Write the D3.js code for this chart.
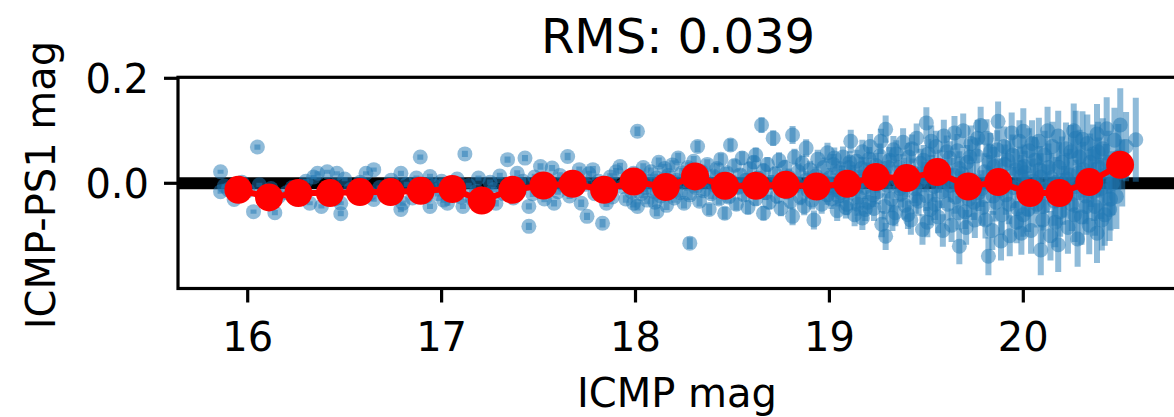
<!DOCTYPE html>
<html>
<head>
	<script type="text/javascript" src="https://cdn.jsdelivr.net/npm/d3@7"></script>
	<style type="text/css">
		body { margin: 0; background: #fff; }
		text { font-family: "DejaVu Sans", sans-serif; fill: #000; }
	</style>
</head>
<body>
<script type="text/javascript">

// star photometry: [ICMP mag, ICMP-PS1 mag, error]
var stars16 = [
	[15.86,0.022,0.004],[15.86,-0.016,0.004],[15.88,-0.005,0.004],[15.90,-0.012,0.004],[15.93,-0.031,0.004],
	[15.95,-0.020,0.004],[15.97,0.002,0.004],[16.00,-0.014,0.004],[16.03,-0.054,0.004],[16.05,0.069,0.005],
	[16.06,-0.003,0.004],[16.08,-0.022,0.004],[16.10,-0.030,0.004],[16.12,-0.010,0.004],[16.14,-0.056,0.005],
	[16.16,-0.025,0.004],[16.20,-0.018,0.004],[16.23,-0.008,0.004],[16.25,-0.030,0.004],[16.28,-0.015,0.004],
	[16.30,0.004,0.004],[16.32,-0.038,0.004],[16.34,0.012,0.004],[16.36,0.019,0.004],[16.38,-0.044,0.004],
	[16.40,-0.022,0.004],[16.41,0.022,0.004],[16.43,-0.005,0.004],[16.45,-0.030,0.004],[16.46,0.019,0.004],
	[16.48,-0.038,0.004],[16.48,-0.058,0.005],[16.50,0.008,0.004],[16.53,-0.012,0.004],[16.56,-0.026,0.004],
	[16.58,0.002,0.004],[16.61,0.019,0.004],[16.63,-0.020,0.004],[16.65,0.026,0.004],[16.65,-0.031,0.004],
	[16.68,-0.008,0.004],[16.71,-0.024,0.004],[16.74,0.006,0.004],[16.76,-0.016,0.004],[16.79,0.019,0.005],
	[16.79,-0.050,0.005],[16.80,-0.038,0.005],[16.82,-0.002,0.005],[16.85,-0.028,0.005],[16.87,0.010,0.005],
	[16.89,0.050,0.005]
];

var stars17 = [
	[16.90,-0.012,0.005],[16.92,-0.025,0.005],[16.94,0.013,0.005],[16.94,-0.044,0.005],[16.96,-0.005,0.005],
	[16.98,-0.020,0.005],[17.00,0.004,0.005],[17.01,-0.032,0.005],[17.03,-0.038,0.005],[17.04,-0.010,0.005],
	[17.06,-0.018,0.005],[17.08,0.008,0.005],[17.10,-0.026,0.005],[17.11,-0.044,0.005],[17.12,0.056,0.006],
	[17.14,-0.004,0.005],[17.16,-0.030,0.005],[17.18,-0.015,0.005],[17.19,0.010,0.005],[17.21,-0.036,0.005],
	[17.23,-0.022,0.005],[17.25,0.002,0.005],[17.27,-0.012,0.005],[17.28,-0.038,0.006],[17.30,0.014,0.006],
	[17.32,-0.020,0.006],[17.34,0.045,0.006],[17.35,-0.006,0.006],[17.37,-0.028,0.006],[17.39,0.019,0.006],
	[17.40,-0.014,0.006],[17.42,0.004,0.006],[17.43,0.048,0.006],[17.45,-0.044,0.006],[17.45,-0.082,0.007],
	[17.47,-0.020,0.006],[17.48,0.012,0.006],[17.50,-0.008,0.006],[17.51,0.032,0.006],[17.53,-0.030,0.006],
	[17.55,0.000,0.006],[17.57,0.029,0.006],[17.58,-0.038,0.006],[17.60,-0.016,0.006],[17.61,0.015,0.006],
	[17.63,-0.004,0.006],[17.65,0.051,0.007],[17.66,-0.024,0.006],[17.68,0.008,0.006],[17.70,-0.010,0.006],
	[17.71,0.026,0.006],[17.72,-0.038,0.007],[17.74,-0.002,0.006],[17.75,-0.063,0.007],[17.76,0.018,0.006],
	[17.78,0.026,0.007],[17.79,-0.020,0.007],[17.81,0.004,0.007],[17.83,-0.076,0.008],[17.84,-0.012,0.007],
	[17.85,-0.038,0.007],[17.87,0.012,0.007],[17.88,-0.026,0.007],[17.90,0.022,0.007],[17.92,0.032,0.007],
	[17.93,-0.006,0.007],[17.95,-0.030,0.007],[17.96,0.010,0.007],[17.98,-0.016,0.007],[17.99,0.019,0.007],
	[17.99,-0.038,0.008]
];

var stars18 = [
	[18.01,0.099,0.009],[18.01,-0.044,0.008],[18.02,0.012,0.008],[18.03,-0.020,0.008],[18.04,0.030,0.008],
	[18.05,-0.008,0.008],[18.06,-0.032,0.008],[18.07,0.004,0.008],[18.08,0.022,0.008],[18.09,-0.015,0.008],
	[18.10,-0.036,0.009],[18.11,-0.054,0.009],[18.11,0.010,0.008],[18.12,0.040,0.009],[18.13,-0.024,0.008],
	[18.14,-0.002,0.008],[18.15,0.028,0.009],[18.16,-0.042,0.009],[18.17,0.015,0.009],[18.18,-0.010,0.009],
	[18.19,0.035,0.009],[18.20,-0.028,0.009],[18.21,0.006,0.009],[18.22,0.048,0.010],[18.23,-0.018,0.009],
	[18.24,0.020,0.009],[18.25,-0.038,0.010],[18.26,0.000,0.009],[18.27,0.030,0.010],[18.28,-0.114,0.011],
	[18.28,-0.022,0.010],[18.29,0.012,0.010],[18.30,0.042,0.010],[18.31,-0.008,0.010],[18.32,0.070,0.011],
	[18.33,-0.034,0.010],[18.34,0.022,0.010],[18.35,-0.014,0.010],[18.36,0.004,0.010],[18.37,0.036,0.010],
	[18.38,-0.050,0.011],[18.39,-0.020,0.010],[18.40,0.014,0.011],[18.41,-0.004,0.011],[18.42,0.028,0.011],
	[18.43,-0.030,0.011],[18.44,0.046,0.011],[18.45,0.008,0.011],[18.46,-0.057,0.012],[18.46,-0.012,0.011],
	[18.47,0.020,0.011],[18.48,-0.026,0.012],[18.49,0.073,0.012],[18.50,0.002,0.012],[18.51,0.034,0.012],
	[18.52,-0.040,0.012],[18.53,-0.008,0.012],[18.54,0.016,0.012],[18.55,0.048,0.013],[18.56,-0.022,0.012],
	[18.57,0.006,0.013],[18.58,-0.046,0.013],[18.59,0.028,0.013],[18.60,-0.012,0.013],[18.61,0.040,0.013],
	[18.62,0.054,0.014],[18.62,-0.030,0.013],[18.63,0.010,0.013],[18.64,-0.004,0.013],[18.65,0.111,0.015],
	[18.66,-0.057,0.014],[18.66,0.024,0.014],[18.67,-0.018,0.014],[18.68,0.036,0.014],[18.69,-0.036,0.014],
	[18.70,0.002,0.014],[18.71,0.086,0.015],[18.72,0.018,0.014],[18.73,-0.024,0.015],[18.74,0.044,0.015],
	[18.75,-0.048,0.015],[18.76,-0.006,0.015],[18.77,0.030,0.015],[18.78,-0.016,0.015],[18.79,0.012,0.016],
	[18.80,-0.034,0.016],[18.81,0.092,0.017],[18.81,-0.063,0.017],[18.82,0.050,0.016],[18.83,-0.002,0.016],
	[18.84,0.022,0.016],[18.85,-0.026,0.016],[18.86,0.038,0.017],[18.87,-0.044,0.017],[18.88,0.067,0.017],
	[18.88,0.006,0.017],[18.89,-0.014,0.017],[18.90,0.026,0.017],[18.91,-0.032,0.018],[18.92,-0.070,0.018],
	[18.93,0.014,0.018],[18.94,0.046,0.018],[18.95,-0.008,0.018],[18.96,-0.040,0.018],[18.97,0.030,0.019],
	[18.98,0.000,0.019],[18.99,0.058,0.019],[18.99,-0.022,0.019]
];

var stars19 = [
	[19.00,0.010,0.019],[19.005,-0.004,0.019],[19.01,-0.030,0.019],[19.02,0.036,0.020],[19.025,0.048,0.020],
	[19.03,-0.006,0.020],[19.04,-0.052,0.020],[19.045,-0.024,0.020],[19.05,0.022,0.020],[19.06,-0.018,0.020],
	[19.065,0.014,0.020],[19.07,0.050,0.020],[19.08,0.000,0.021],[19.085,-0.046,0.021],[19.09,-0.040,0.021],
	[19.10,0.030,0.021],[19.105,0.040,0.021],[19.11,0.080,0.022],[19.11,-0.012,0.021],[19.12,0.014,0.021],
	[19.125,-0.004,0.021],[19.13,-0.060,0.022],[19.14,0.042,0.022],[19.145,-0.040,0.022],[19.15,-0.026,0.022],
	[19.16,0.004,0.022],[19.165,0.028,0.022],[19.17,-0.066,0.023],[19.17,0.060,0.023],[19.18,-0.008,0.022],
	[19.185,-0.050,0.022],[19.19,0.026,0.023],[19.20,-0.036,0.023],[19.205,0.046,0.023],[19.21,0.070,0.024],
	[19.22,0.010,0.023],[19.225,-0.022,0.023],[19.23,-0.048,0.024],[19.24,0.034,0.024],[19.245,0.006,0.024],
	[19.25,-0.016,0.024],[19.26,0.052,0.024],[19.265,0.080,0.024],[19.27,-0.078,0.025],[19.28,0.018,0.024],
	[19.285,-0.044,0.025],[19.29,0.103,0.026],[19.29,-0.101,0.026],[19.30,-0.004,0.025],[19.305,0.030,0.025],
	[19.31,0.044,0.025],[19.32,-0.030,0.025],[19.325,-0.066,0.025],[19.33,0.064,0.026],[19.34,-0.056,0.026],
	[19.345,0.056,0.026],[19.35,0.008,0.026],[19.36,0.030,0.026],[19.365,-0.010,0.026],[19.37,-0.020,0.026],
	[19.38,0.078,0.027],[19.385,0.022,0.027],[19.39,-0.042,0.027],[19.40,0.000,0.027],[19.405,-0.060,0.027],
	[19.41,0.050,0.027],[19.42,-0.070,0.028],[19.425,0.066,0.027],[19.43,0.020,0.027],[19.44,-0.010,0.028],
	[19.445,-0.030,0.028],[19.45,0.086,0.028],[19.46,-0.034,0.028],[19.465,0.004,0.028],[19.47,0.038,0.028],
	[19.48,-0.088,0.029],[19.485,0.044,0.029],[19.49,0.012,0.029],[19.50,0.115,0.030],[19.50,-0.024,0.029],
	[19.505,-0.074,0.029],[19.51,0.056,0.029],[19.52,-0.050,0.030],[19.525,0.080,0.030],[19.53,0.024,0.030],
	[19.54,-0.006,0.030],[19.545,-0.040,0.030],[19.55,0.070,0.030],[19.56,-0.064,0.031],[19.565,0.012,0.030],
	[19.57,0.034,0.030],[19.58,-0.016,0.031],[19.585,-0.090,0.031],[19.59,0.090,0.031],[19.60,0.004,0.031],
	[19.605,0.060,0.031],[19.61,-0.040,0.031],[19.62,0.048,0.032],[19.625,-0.004,0.032],[19.63,-0.080,0.032],
	[19.64,0.016,0.032],[19.645,0.096,0.032],[19.65,-0.026,0.032],[19.66,0.062,0.032],[19.665,-0.056,0.032],
	[19.67,-0.120,0.034],[19.67,0.028,0.033],[19.68,-0.010,0.033],[19.685,0.018,0.033],[19.69,0.100,0.033],
	[19.70,-0.054,0.033],[19.705,-0.084,0.033],[19.71,0.040,0.033],[19.72,-0.030,0.034],[19.725,0.050,0.034],
	[19.73,0.076,0.034],[19.74,0.006,0.034],[19.745,-0.036,0.034],[19.75,-0.070,0.034],[19.76,0.052,0.035],
	[19.765,0.086,0.035],[19.77,-0.018,0.035],[19.78,0.110,0.036],[19.785,-0.010,0.035],[19.79,-0.046,0.035],
	[19.80,0.022,0.035],[19.805,-0.070,0.035],[19.81,0.086,0.036],[19.82,-0.139,0.036],[19.82,-0.002,0.036],
	[19.825,0.040,0.036],[19.83,0.060,0.036],[19.84,-0.090,0.037],[19.845,-0.024,0.036],[19.85,0.032,0.037],
	[19.86,-0.036,0.037],[19.865,0.064,0.037],[19.87,0.118,0.038],[19.88,0.010,0.037],[19.885,-0.110,0.037],
	[19.89,-0.060,0.038],[19.90,0.070,0.038],[19.905,0.036,0.038],[19.91,-0.022,0.038],[19.92,0.044,0.038],
	[19.925,-0.040,0.038],[19.93,-0.100,0.039],[19.94,0.096,0.039],[19.945,0.054,0.039],[19.95,-0.008,0.039],
	[19.96,0.026,0.040],[19.965,-0.074,0.040],[19.97,-0.048,0.040],[19.98,0.080,0.040],[19.985,0.030,0.040],
	[19.99,-0.095,0.041],[19.99,0.014,0.040]
];

var stars20 = [
	[20.00,0.099,0.044],[20.00,-0.060,0.042],[20.005,0.032,0.042],[20.01,0.020,0.042],[20.02,-0.020,0.043],
	[20.025,-0.050,0.043],[20.03,0.062,0.043],[20.04,-0.090,0.044],[20.045,0.076,0.044],[20.05,0.004,0.043],
	[20.06,0.044,0.044],[20.065,-0.014,0.044],[20.07,-0.040,0.044],[20.08,0.080,0.045],[20.085,0.026,0.045],
	[20.09,-0.127,0.048],[20.09,0.012,0.045],[20.10,-0.070,0.045],[20.105,-0.044,0.046],[20.11,0.054,0.046],
	[20.12,-0.010,0.046],[20.125,0.100,0.046],[20.13,0.030,0.046],[20.14,-0.100,0.047],[20.145,0.010,0.047],
	[20.15,0.070,0.047],[20.16,-0.034,0.047],[20.165,-0.074,0.048],[20.17,0.002,0.048],[20.18,-0.117,0.052],
	[20.18,0.090,0.048],[20.185,0.030,0.048],[20.19,-0.054,0.048],[20.20,0.040,0.049],[20.205,-0.030,0.049],
	[20.21,-0.016,0.049],[20.22,0.066,0.050],[20.225,0.008,0.050],[20.23,-0.084,0.050],[20.24,0.016,0.050],
	[20.245,0.060,0.051],[20.25,-0.040,0.051],[20.26,0.100,0.052],[20.265,-0.060,0.052],[20.27,0.086,0.052],
	[20.27,-0.006,0.051],[20.28,-0.106,0.053],[20.285,0.020,0.052],[20.29,0.050,0.052],[20.30,-0.064,0.053],
	[20.305,0.084,0.053],[20.31,0.026,0.053],[20.32,-0.024,0.054],[20.325,-0.044,0.054],[20.33,0.076,0.055],
	[20.34,-0.080,0.055],[20.345,0.040,0.055],[20.35,0.010,0.055],[20.36,0.056,0.056],[20.365,-0.016,0.056],
	[20.37,-0.044,0.056],[20.38,-0.095,0.057],[20.38,0.094,0.057],[20.385,0.060,0.057],[20.39,0.030,0.057],
	[20.40,-0.010,0.058],[20.405,-0.070,0.058],[20.41,0.066,0.058],[20.42,-0.060,0.059],[20.425,0.016,0.059],
	[20.43,0.104,0.060],[20.44,0.040,0.060],[20.445,-0.050,0.060],[20.45,-0.030,0.060],[20.46,0.000,0.061],
	[20.47,0.082,0.062],[20.48,-0.025,0.062],[20.49,0.050,0.063],[20.50,0.111,0.070],[20.51,0.020,0.064],
	[20.53,0.070,0.066],[20.58,0.083,0.080]
];

// binned medians (red)
var binMag = [15.952, 16.110, 16.261, 16.424, 16.579, 16.737, 16.892, 17.055, 17.207, 17.365,
	17.525, 17.676, 17.838, 17.990, 18.156, 18.307, 18.462, 18.621, 18.775, 18.934,
	19.092, 19.240, 19.399, 19.556, 19.716, 19.871, 20.035, 20.186, 20.340, 20.499];
var binMedian = [-0.0124, -0.0270, -0.0187, -0.0187, -0.0168, -0.0168, -0.0143, -0.0110, -0.0328, -0.0124,
	-0.0042, -0.0010, -0.0124, 0.0034, -0.0072, 0.0130, -0.0048, -0.0048, -0.0029, -0.0061,
	-0.0010, 0.0118, 0.0099, 0.0213, -0.0061, 0.0023, -0.0187, -0.0187, 0.0023, 0.0352];

var xTicks = [16, 17, 18, 19, 20],
	yTicks = [0.0, 0.2],
	xLimits = [15.6405, 20.79],
	yLimits = [-0.2004, 0.2019],
	titleText = "RMS: 0.039",
	xLabel = "ICMP mag",
	yLabel = "ICMP-PS1 mag";

var width = 1174,
	height = 417,
	plotLeft = 178,
	plotRight = 1176.5,
	plotTop = 77.3,
	plotBottom = 288.5,
	tickLen = 14,
	spineWidth = 3.2;

var stars = stars16.concat(stars17, stars18, stars19, stars20);
var bins = binMag.map(function(m, i) { return { mag: m, med: binMedian[i] }; });

var x = d3.scaleLinear().domain(xLimits).range([plotLeft, plotRight]);
var y = d3.scaleLinear().domain(yLimits).range([plotBottom, plotTop]);

var svg = d3.select("body").append("svg")
	.attr("width", width)
	.attr("height", height);

svg.append("defs").append("clipPath")
	.attr("id", "plot-clip")
  .append("rect")
	.attr("x", plotLeft)
	.attr("y", plotTop)
	.attr("width", plotRight - plotLeft)
	.attr("height", plotBottom - plotTop);

var plot = svg.append("g").attr("clip-path", "url(#plot-clip)");

// zero line
plot.append("line")
	.attr("x1", x(xLimits[0]))
	.attr("x2", x(xLimits[1]))
	.attr("y1", y(0))
	.attr("y2", y(0))
	.attr("stroke", "#000")
	.attr("stroke-width", 12);

// error bars
plot.append("g").selectAll("line")
	.data(stars)
  .enter().append("line")
	.attr("x1", function(d) { return x(d[0]); })
	.attr("x2", function(d) { return x(d[0]); })
	.attr("y1", function(d) { return y(d[1] - d[2]); })
	.attr("y2", function(d) { return y(d[1] + d[2]); })
	.attr("stroke", "#1f77b4")
	.attr("stroke-opacity", 0.5)
	.attr("stroke-width", 6);

// star markers
plot.append("g").selectAll("circle")
	.data(stars)
  .enter().append("circle")
	.attr("cx", function(d) { return x(d[0]); })
	.attr("cy", function(d) { return y(d[1]); })
	.attr("r", 7.5)
	.attr("fill", "#1f77b4")
	.attr("fill-opacity", 0.5);

// binned medians
plot.append("path")
	.datum(bins)
	.attr("fill", "none")
	.attr("stroke", "#ff0000")
	.attr("stroke-width", 6)
	.attr("d", d3.line().x(function(d) { return x(d.mag); }).y(function(d) { return y(d.med); }));

plot.append("g").selectAll("circle")
	.data(bins)
  .enter().append("circle")
	.attr("cx", function(d) { return x(d.mag); })
	.attr("cy", function(d) { return y(d.med); })
	.attr("r", 14)
	.attr("fill", "#ff0000");

// spines
svg.append("rect")
	.attr("x", plotLeft)
	.attr("y", plotTop)
	.attr("width", plotRight - plotLeft)
	.attr("height", plotBottom - plotTop)
	.attr("fill", "none")
	.attr("stroke", "#000")
	.attr("stroke-width", spineWidth);

// x ticks
var xt = svg.append("g").selectAll("g")
	.data(xTicks)
  .enter().append("g")
	.attr("transform", function(d) { return "translate(" + x(d) + ",0)"; });
xt.append("line")
	.attr("y1", plotBottom)
	.attr("y2", plotBottom + tickLen)
	.attr("stroke", "#000")
	.attr("stroke-width", spineWidth);
xt.append("text")
	.attr("y", 351)
	.attr("text-anchor", "middle")
	.attr("font-size", 40)
	.text(function(d) { return d; });

// y ticks
var yt = svg.append("g").selectAll("g")
	.data(yTicks)
  .enter().append("g")
	.attr("transform", function(d) { return "translate(0," + y(d) + ")"; });
yt.append("line")
	.attr("x1", plotLeft - tickLen)
	.attr("x2", plotLeft)
	.attr("stroke", "#000")
	.attr("stroke-width", spineWidth);
yt.append("text")
	.attr("x", plotLeft - 2 * tickLen - 1)
	.attr("y", 14.6)
	.attr("text-anchor", "end")
	.attr("font-size", 40)
	.text(function(d) { return d3.format(".1f")(d); });

// labels
svg.append("text")
	.attr("x", 678)
	.attr("y", 53)
	.attr("text-anchor", "middle")
	.attr("font-size", 48)
	.text(titleText);

svg.append("text")
	.attr("x", 677)
	.attr("y", 407)
	.attr("text-anchor", "middle")
	.attr("font-size", 40)
	.text(xLabel);

svg.append("text")
	.attr("transform", "translate(55,185) rotate(-90)")
	.attr("text-anchor", "middle")
	.attr("font-size", 40)
	.text(yLabel);

</script>
</body>
</html>
